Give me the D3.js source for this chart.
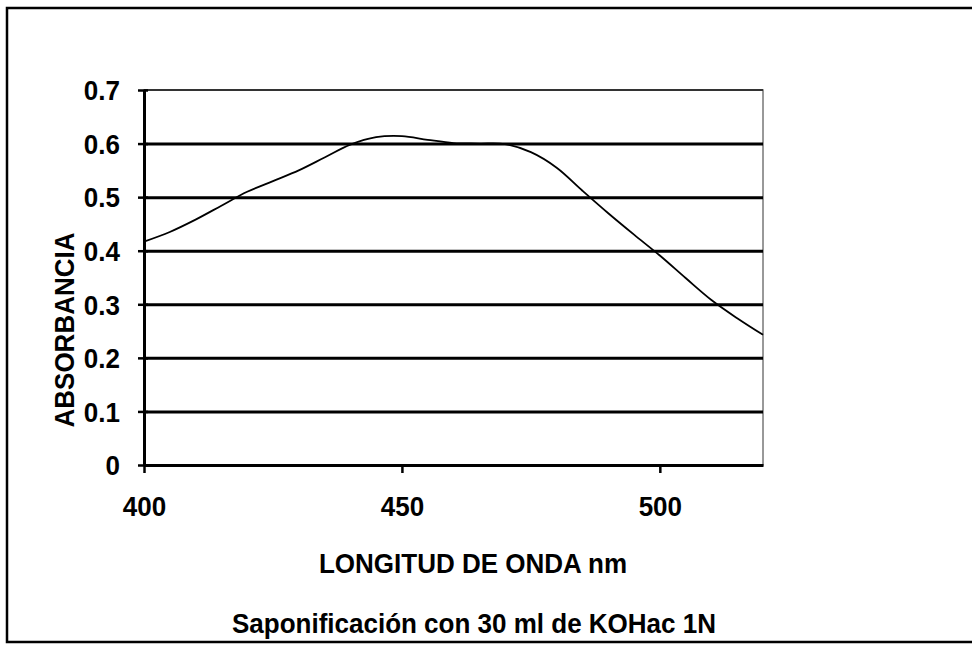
<!DOCTYPE html>
<html>
<head>
<meta charset="utf-8">
<script src="https://cdn.jsdelivr.net/npm/d3@7"></script>
<style>
  html, body { margin: 0; padding: 0; background: #fff; }
  text { font-family: "Liberation Sans", Arial, sans-serif; font-weight: bold; fill: #000; }
</style>
</head>
<body>
<script>
// ---- data ----
const wavelengths = [400, 405, 410, 415, 420, 425, 430, 435, 440, 445, 450, 455, 460, 465, 470, 475, 480, 485, 490, 495, 500, 505, 510, 515, 520];
const absorbance  = [0.417, 0.435, 0.458, 0.484, 0.510, 0.530, 0.550, 0.574, 0.598, 0.612, 0.614, 0.607, 0.601, 0.600, 0.599, 0.584, 0.555, 0.512, 0.470, 0.430, 0.391, 0.349, 0.308, 0.274, 0.243];
const xTicks = [400, 450, 500];
const yTicks = [0, 0.1, 0.2, 0.3, 0.4, 0.5, 0.6, 0.7];
const yLabels = ["0", "0.1", "0.2", "0.3", "0.4", "0.5", "0.6", "0.7"];
const xTitle = "LONGITUD DE ONDA nm";
const yTitle = "ABSORBANCIA";
const caption = "Saponificación con 30 ml de KOHac 1N";

// ---- layout ----
const W = 972, H = 646;
const pL = 144, pR = 763, pT = 90, pB = 465;
const FS = 28, FW = 26; // drawn size, width-equivalent size (condensed look)

const svg = d3.select("body").append("svg").attr("width", W).attr("height", H);

function condense(sel) {
  sel.attr("font-size", FS).attr("font-family", null).each(function () {
    const len = this.getComputedTextLength();
    d3.select(this).attr("textLength", len * FW / FS).attr("lengthAdjust", "spacingAndGlyphs");
  });
}

// outer frame
svg.append("path")
  .attr("d", `M972,8 L7,8 L7,642 L972,642`)
  .attr("fill", "none").attr("stroke", "#000").attr("stroke-width", 2.5);

const x = d3.scaleLinear().domain([400, 520]).range([pL, pR]);
const y = d3.scaleLinear().domain([0, 0.7]).range([pB, pT]);

// plot border
svg.append("rect")
  .attr("x", pL).attr("y", pT).attr("width", pR - pL).attr("height", pB - pT)
  .attr("fill", "none").attr("stroke", "#777").attr("stroke-width", 1.5);

// gridlines
const grid = svg.append("g").attr("transform", `translate(${pL},0)`)
  .call(d3.axisLeft(y).tickValues(yTicks.filter(v => v > 0 && v < 0.7)).tickSize(-(pR - pL)).tickFormat(""));
grid.select(".domain").remove();
grid.selectAll("line").attr("stroke", "#000").attr("stroke-width", 3);

// top line (0.7)
svg.append("line").attr("x1", pL).attr("x2", pR).attr("y1", y(0.7)).attr("y2", y(0.7))
  .attr("stroke", "#333").attr("stroke-width", 2);

// data line
const line = d3.line().x((d, i) => x(wavelengths[i])).y(d => y(d)).curve(d3.curveCatmullRom.alpha(0.5));
svg.append("path").datum(absorbance)
  .attr("d", line).attr("fill", "none").attr("stroke", "#000").attr("stroke-width", 1.8);

// y axis
const yAxis = svg.append("g").attr("transform", `translate(${pL},0)`)
  .call(d3.axisLeft(y).tickValues(yTicks).tickFormat((d, i) => yLabels[i]).tickSize(6).tickSizeOuter(0).tickPadding(18));
yAxis.select(".domain").attr("stroke", "#000").attr("stroke-width", 3);
yAxis.selectAll(".tick line").attr("stroke", "#000").attr("stroke-width", 2.5).attr("x2", 4).attr("x1", -6);
yAxis.selectAll("text").attr("dy", "0.35em").call(condense);

// x axis
const xAxis = svg.append("g").attr("transform", `translate(0,${pB})`)
  .call(d3.axisBottom(x).tickValues(xTicks).tickFormat(d3.format("d")).tickSize(8).tickSizeOuter(0));
xAxis.select(".domain").attr("stroke", "#000").attr("stroke-width", 3);
xAxis.selectAll(".tick line").attr("stroke", "#000").attr("stroke-width", 2.5);
xAxis.selectAll("text").attr("y", 51).attr("dy", 0).call(condense);

// titles
svg.append("text").attr("x", 473).attr("y", 573).attr("text-anchor", "middle")
  .text(xTitle).call(condense);
svg.append("text").attr("transform", `translate(74,330) rotate(-90)`).attr("text-anchor", "middle")
  .text(yTitle).call(condense);
svg.append("text").attr("x", 474).attr("y", 633).attr("text-anchor", "middle")
  .text(caption).call(condense);
</script>
</body>
</html>
